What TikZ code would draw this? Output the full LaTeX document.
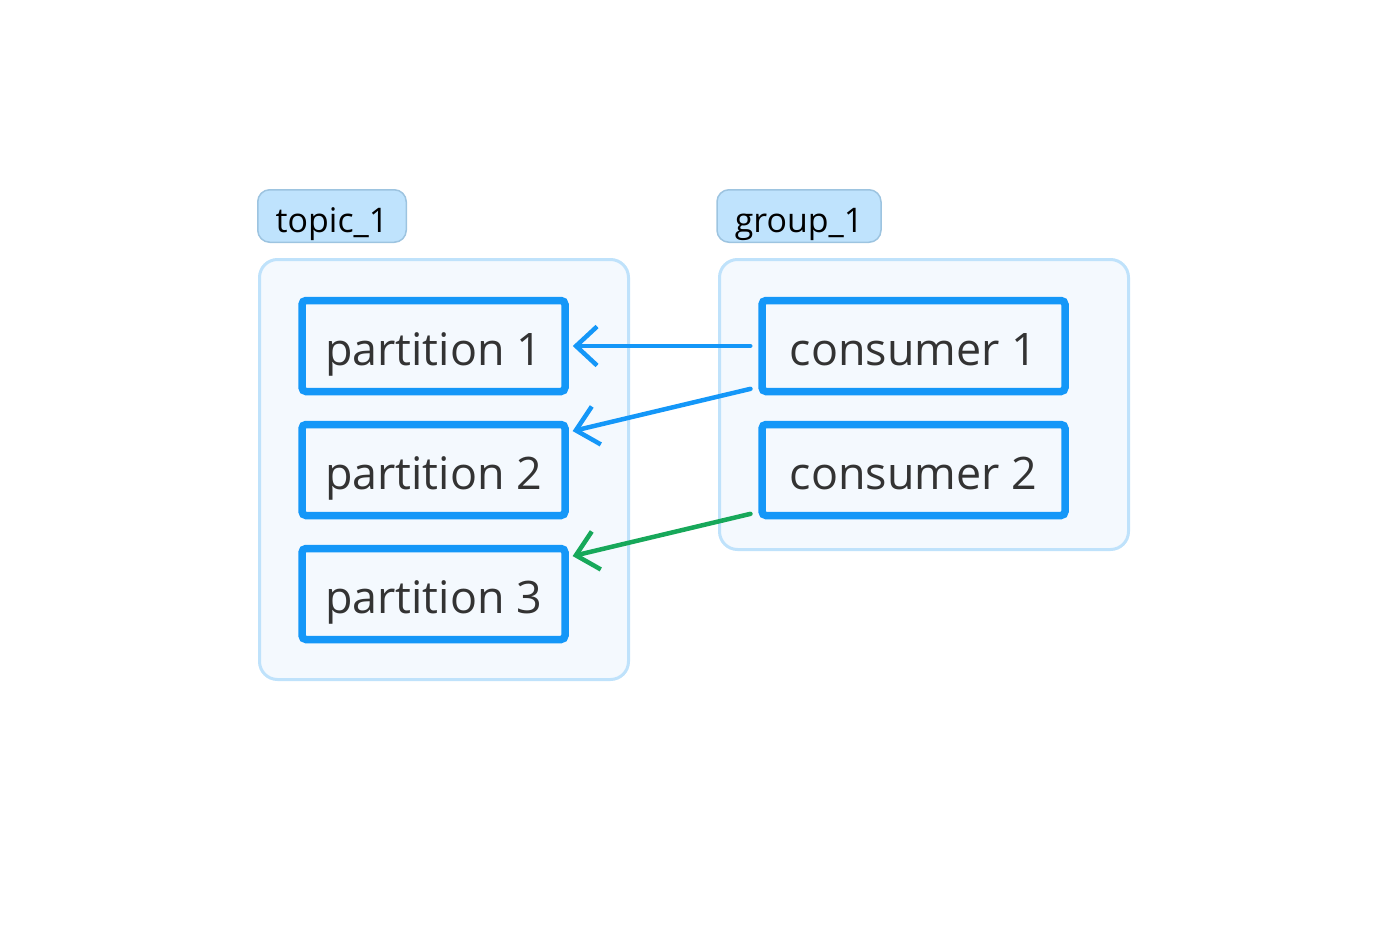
\documentclass[tikz,border=0pt]{standalone}
\usepackage{fontspec}
\setmainfont{Open Sans}
\usetikzlibrary{arrows.meta,positioning}
\definecolor{boxblue}{HTML}{1497F8}
\definecolor{linkgreen}{HTML}{17A85A}
\definecolor{contline}{HTML}{BFE2FB}
\definecolor{contfill}{HTML}{F4F9FE}
\definecolor{tagfill}{HTML}{BFE3FD}
\definecolor{tagline}{HTML}{9DC4E0}
\definecolor{textgray}{HTML}{333333}

\begin{document}
\begin{tikzpicture}[>={Straight Barb[length=0.42cm,width=0.78cm]}, line cap=round, node distance=2.48cm]
\tikzstyle{container}=[draw=contline,fill=contfill,line width=0.06cm,rounded corners=0.36cm,inner sep=0pt]
\tikzstyle{tag}=[draw=tagline,fill=tagfill,line width=0.03cm,rounded corners=0.24cm,inner sep=0pt,minimum height=1.05cm,text height=0.79cm,text depth=0.15cm,text=black,font=\fontsize{19.3}{23}\selectfont]
\tikzstyle{member}=[draw=boxblue,fill=contfill,line width=0.15cm,rounded corners=0.08cm,inner sep=0pt,minimum height=1.82cm,text height=0.96cm,text depth=0.2cm,text=textgray,font=\fontsize{25.5}{30}\selectfont]
\useasboundingbox (0,0) rectangle (27.76,-18.76);

% groups
\node[container,minimum width=7.38cm,minimum height=8.4cm] (topic) at (8.88,-9.39) {};
\node[container,minimum width=8.18cm,minimum height=5.8cm] (group) at (18.48,-8.09) {};
\node[tag,minimum width=2.97cm] (topictag) at (6.64,-4.32) {topic\_1};
\node[tag,minimum width=3.28cm] (grouptag) at (15.98,-4.32) {group\_1};

% partitions and consumers
\node[member,minimum width=5.26cm] (p1) at (8.67,-6.92) {partition 1};
\node[member,minimum width=5.26cm] (p2)[below of=p1] {partition 2};
\node[member,minimum width=5.26cm] (p3)[below of=p2] {partition 3};
\node[member,minimum width=6.06cm] (c1)[right of=p1,node distance=9.6cm] {consumer 1};
\node[member,minimum width=6.06cm] (c2)[below of=c1] {consumer 2};

\path[->,line width=0.09cm,shorten <=0.16cm,shorten >=0.08cm]
(c1.west) edge[draw=boxblue] (p1.east)
([yshift=-0.82cm]c1.west) edge[draw=boxblue] ([yshift=0.76cm]p2.east)
([yshift=-0.84cm]c2.west) edge[draw=linkgreen] ([yshift=0.74cm]p3.east);
\end{tikzpicture}
\end{document}
